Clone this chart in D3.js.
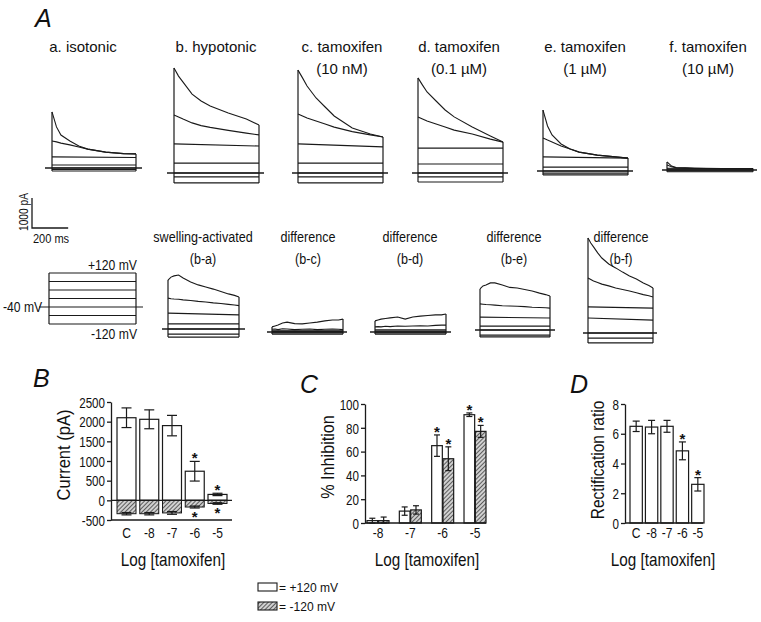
<!DOCTYPE html>
<html><head><meta charset="utf-8">
<script src="https://cdn.jsdelivr.net/npm/d3@7"></script>
<style>
body{margin:0;background:#fff}
svg{display:block}
text{font-family:"Liberation Sans",Arial,sans-serif;fill:#111}
</style></head><body>
<svg id="chart" width="761" height="622"></svg>
<script>
// ---------------- DATA ----------------
const doseLabels = ["C", "-8", "-7", "-6", "-5"];
const currentPos = [2100, 2060, 1900, 740, 150];
const currentPosErr = [250, 240, 260, 250, 30];
const currentNeg = [-340, -340, -320, -170, -80];
const currentNegErr = [30, 30, 35, 25, 20];
const currentStars = [false, false, false, true, true];
const currentTicks = [-500, 0, 500, 1000, 1500, 2000, 2500];

const inhibLabels = ["-8", "-7", "-6", "-5"];
const inhibPos = [2, 10, 65, 91];
const inhibPosErr = [2, 3.5, 9, 1.5];
const inhibNeg = [2, 11, 54, 77];
const inhibNegErr = [3, 3.5, 10, 5];
const inhibStars = [false, false, true, true];
const inhibTicks = [0, 20, 40, 60, 80, 100];

const rectRatio = [6.5, 6.45, 6.5, 4.85, 2.6];
const rectErr = [0.35, 0.45, 0.4, 0.6, 0.45];
const rectStars = [false, false, false, true, true];
const rectTicks = [0, 2, 4, 6, 8];

// voltage steps (mV), holding -40 mV
const stepVoltages = [120, 80, 40, 0, -40, -80, -120];
// sample times (ms) of the current traces
const timeTop = [0, 25, 50, 100, 150, 200, 300, 400, 470];
const timeDiff = [0, 20, 40, 70, 100, 150, 200, 250, 300, 350, 400, 440, 470];
const timeFlat = [0, 470];

// current traces (pA) in step order +120 .. -120
const traceIsotonic = [
  [1870, 1370, 1100, 900, 730, 630, 530, 480, 470],
  [900, 870, 830, 770, 700, 630, 530, 480, 470],
  [370, 350], [100, 100], [0, 0], [-50, -50], [-100, -100]];
const traceHypotonic = [
  [3500, 3230, 3030, 2630, 2400, 2230, 2000, 1800, 1600],
  [1930, 1870, 1800, 1670, 1580, 1520, 1420, 1330, 1270],
  [970, 900], [330, 330], [0, 0], [-130, -130], [-330, -330]];
const traceTam10nM = [
  [3430, 3170, 2900, 2500, 2200, 1900, 1500, 1300, 1200],
  [1970, 1900, 1830, 1730, 1630, 1530, 1380, 1270, 1200],
  [970, 870], [330, 330], [0, 0], [-130, -130], [-330, -330]];
const traceTam01uM = [
  [3170, 2930, 2700, 2400, 2100, 1870, 1530, 1230, 1030],
  [1870, 1800, 1730, 1630, 1530, 1430, 1300, 1130, 1030],
  [830, 830], [300, 300], [0, 0], [-130, -130], [-300, -300]];
const traceTam1uM = [
  [2030, 1500, 1200, 900, 730, 630, 530, 470, 430],
  [1100, 1030, 970, 830, 730, 630, 530, 470, 430],
  [470, 430], [130, 130], [0, 0], [-70, -70], [-130, -130]];
const traceTam10uM = [
  [270, 130, 80, 70, 60, 55, 50, 50, 50],
  [170, 110, 75, 65, 55, 50, 45, 45, 45],
  [60, 40], [30, 25], [0, 0], [-30, -30], [-60, -60]];

const diffBA = [
  [1630, 1730, 1770, 1800, 1700, 1570, 1470, 1400, 1330, 1250, 1170, 1120, 1070],
  [1030, 1010, 1000, 990, 970, 950, 920, 900, 870, 850, 820, 800, 780],
  [530, 470], [170, 170], [0, 0], [-170, -170], [-270, -270]];
const diffBC = [
  [170, 200, 230, 300, 330, 280, 270, 300, 330, 370, 400, 400, 430],
  [90, 100, 80, 110, 100, 80, 90, 100, 80, 90, 100, 90, 80],
  [40, 40], [20, 20], [0, 0], [-30, -30], [-70, -70]];
const diffBD = [
  [370, 400, 430, 450, 470, 500, 430, 500, 530, 550, 570, 570, 600],
  [170, 180, 170, 190, 180, 200, 190, 200, 210, 200, 220, 230, 230],
  [70, 70], [30, 30], [0, 0], [-30, -30], [-70, -70]];
const diffBE = [
  [1370, 1470, 1500, 1570, 1570, 1500, 1420, 1400, 1350, 1300, 1230, 1180, 1130],
  [870, 860, 850, 840, 830, 810, 800, 790, 780, 760, 750, 740, 730],
  [430, 400], [130, 130], [0, 0], [-170, -170], [-230, -230]];
const diffBF = [
  [3170, 3000, 2870, 2670, 2500, 2300, 2170, 2030, 1900, 1800, 1670, 1580, 1500],
  [1830, 1780, 1730, 1680, 1630, 1570, 1500, 1450, 1400, 1340, 1280, 1240, 1200],
  [870, 830], [500, 430], [0, 0], [-170, -170], [-330, -330]];

// ---------------- LAYOUT ----------------
const svg = d3.select("#chart");
const defs = svg.append("defs");
const pat = defs.append("pattern").attr("id", "hatch").attr("patternUnits", "userSpaceOnUse")
  .attr("width", 3).attr("height", 3).attr("patternTransform", "rotate(45)");
pat.append("rect").attr("width", 3).attr("height", 3).attr("fill", "#d0d0d0");
pat.append("line").attr("x1", 0).attr("y1", 0).attr("x2", 0).attr("y2", 3)
  .attr("stroke", "#2a2a2a").attr("stroke-width", 1.4);

const ink = "#1a1a1a";
// text helper: sx = horizontal compression (condensed look), rotate = vertical text
function txt(g, x, y, s, size, opts = {}) {
  const sx = opts.sx || 1;
  let tr = `translate(${x},${y})`;
  if (opts.rotate) tr += " rotate(-90)";
  if (sx !== 1) tr += ` scale(${sx},1)`;
  const t = g.append("text").attr("transform", tr).attr("font-size", size).text(s)
    .attr("text-anchor", opts.anchor || "start");
  if (opts.italic) t.attr("font-style", "italic");
  return t;
}

// panel letters
txt(svg, 35, 27, "A", 25, {italic: true});
txt(svg, 33, 387, "B", 25, {italic: true});
txt(svg, 300, 393, "C", 25, {italic: true});
txt(svg, 570, 393, "D", 25, {italic: true});

// ---------------- PANEL A: traces ----------------
const pxPerPa = 30 / 1000;
const panels = [
  {data: traceIsotonic, t: timeTop, x0: 52, x1: 136, base: 168, lx0: 45, lx1: 142, title: ["a. isotonic"], tx: 83, ty: 52, sx: 1},
  {data: traceHypotonic, t: timeTop, x0: 174, x1: 259, base: 173, lx0: 167, lx1: 264, title: ["b. hypotonic"], tx: 216, ty: 52, sx: 1},
  {data: traceTam10nM, t: timeTop, x0: 298, x1: 383, base: 173, lx0: 292, lx1: 388, title: ["c. tamoxifen", "(10 nM)"], tx: 342, ty: 52, sx: 1},
  {data: traceTam01uM, t: timeTop, x0: 418, x1: 503, base: 173, lx0: 412, lx1: 508, title: ["d. tamoxifen", "(0.1 µM)"], tx: 459, ty: 52, sx: 1},
  {data: traceTam1uM, t: timeTop, x0: 543, x1: 628, base: 171, lx0: 537, lx1: 633, title: ["e. tamoxifen", "(1 µM)"], tx: 585, ty: 52, sx: 1},
  {data: traceTam10uM, t: timeTop, x0: 667, x1: 753, base: 170, lx0: 662, lx1: 757, title: ["f. tamoxifen", "(10 µM)"], tx: 708, ty: 52, sx: 1},
  {data: diffBA, t: timeDiff, x0: 168, x1: 239, base: 329, lx0: 162, lx1: 245, title: ["swelling-activated", "(b-a)"], tx: 203, ty: 242, sx: 0.84},
  {data: diffBC, t: timeDiff, x0: 272, x1: 343, base: 332, lx0: 267, lx1: 347, title: ["difference", "(b-c)"], tx: 308, ty: 242, sx: 0.84},
  {data: diffBD, t: timeDiff, x0: 375, x1: 446, base: 332, lx0: 370, lx1: 451, title: ["difference", "(b-d)"], tx: 410, ty: 242, sx: 0.84},
  {data: diffBE, t: timeDiff, x0: 480, x1: 550, base: 330, lx0: 475, lx1: 555, title: ["difference", "(b-e)"], tx: 514, ty: 242, sx: 0.84},
  {data: diffBF, t: timeDiff, x0: 588, x1: 653, base: 333, lx0: 583, lx1: 657, title: ["difference", "(b-f)"], tx: 621, ty: 242, sx: 0.84}
];
const gA = svg.append("g");
panels.forEach(p => {
  const x = d3.scaleLinear().domain([0, 470]).range([p.x0, p.x1]);
  const y = d3.scaleLinear().domain([0, 1000]).range([p.base, p.base - 1000 * pxPerPa]);
  const g = gA.append("g");
  p.title.forEach((s, i) => txt(g, p.tx, p.ty + i * 22, s, 15, {anchor: "middle", sx: p.sx}));
  g.append("line").attr("x1", p.lx0).attr("x2", p.lx1).attr("y1", y(0)).attr("y2", y(0))
    .attr("stroke", ink).attr("stroke-width", 1.3);
  const line = d3.line().x(d => x(d[0])).y(d => y(d[1]));
  p.data.forEach(tr => {
    const tt = tr.length === 2 ? timeFlat : p.t;
    g.append("path").attr("d", line(tr.map((v, i) => [tt[i], v])))
      .attr("fill", "none").attr("stroke", ink).attr("stroke-width", 1.1);
  });
  const firsts = p.data.map(tr => tr[0]), lasts = p.data.map(tr => tr[tr.length - 1]);
  g.append("line").attr("x1", x(0)).attr("x2", x(0)).attr("y1", y(d3.min(firsts))).attr("y2", y(d3.max(firsts)))
    .attr("stroke", ink).attr("stroke-width", 1.2);
  g.append("line").attr("x1", x(470)).attr("x2", x(470)).attr("y1", y(d3.min(lasts))).attr("y2", y(d3.max(lasts)))
    .attr("stroke", ink).attr("stroke-width", 1.2);
});

// scale bar
const sbY = d3.scaleLinear().domain([0, 1000]).range([228, 198]);
const sbX = d3.scaleLinear().domain([0, 470]).range([32, 32 + 85]);
svg.append("path").attr("d", `M${sbX(0)},${sbY(1000)}V${sbY(0)}H${sbX(200)}`)
  .attr("fill", "none").attr("stroke", ink).attr("stroke-width", 1.3);
txt(svg, 28, 212, "1000 pA", 12, {anchor: "middle", rotate: true, sx: 0.85});
txt(svg, 51, 243, "200 ms", 13, {anchor: "middle", sx: 0.85});

// voltage protocol
const vY = d3.scaleLinear().domain([-120, 120]).range([324, 273]);
const gV = svg.append("g");
stepVoltages.forEach(v => {
  const ext = v === -40;
  gV.append("line").attr("x1", ext ? 39 : 49).attr("x2", ext ? 143 : 136)
    .attr("y1", vY(v)).attr("y2", vY(v)).attr("stroke", ink).attr("stroke-width", 1.2);
});
gV.append("line").attr("x1", 49).attr("x2", 49).attr("y1", vY(120)).attr("y2", vY(-120)).attr("stroke", ink).attr("stroke-width", 1.2);
gV.append("line").attr("x1", 136).attr("x2", 136).attr("y1", vY(120)).attr("y2", vY(-120)).attr("stroke", ink).attr("stroke-width", 1.2);
txt(gV, 137, 270, "+120 mV", 14, {anchor: "end", sx: 0.87});
txt(gV, 3, vY(-40) + 5, "-40 mV", 14, {sx: 0.87});
txt(gV, 137, 339, "-120 mV", 14, {anchor: "end", sx: 0.87});

// ---------------- helpers for bar panels ----------------
function errBar(g, cx, yTop, yBot, cap) {
  g.append("line").attr("x1", cx).attr("x2", cx).attr("y1", yTop).attr("y2", yBot).attr("stroke", ink).attr("stroke-width", 1.2);
  [yTop, yBot].forEach(yy => g.append("line").attr("x1", cx - cap / 2).attr("x2", cx + cap / 2)
    .attr("y1", yy).attr("y2", yy).attr("stroke", ink).attr("stroke-width", 1.2));
}
function star(g, cx, yy) {
  txt(g, cx, yy + 6, "*", 15, {anchor: "middle"}).attr("font-weight", "bold");
}
function yAxis(g, scale, ticks, x) {
  const ax = g.append("g").attr("transform", `translate(${x},0)`)
    .call(d3.axisLeft(scale).tickValues(ticks).tickFormat(d => String(d)).tickSize(4).tickSizeOuter(0).tickPadding(2));
  ax.selectAll("path,line").attr("stroke", ink).attr("stroke-width", 1.3);
  ax.selectAll("text").attr("font-size", 14.5).attr("fill", "#111")
    .attr("x", 0).attr("dy", "0.36em").attr("transform", "translate(-6,0) scale(0.8,1)")
    .attr("font-family", "Liberation Sans, Arial, sans-serif");
  return ax;
}
const xLab = (g, cx, s) => txt(g, cx, 538, s, 15, {anchor: "middle", sx: 0.8});

// ---------------- PANEL B ----------------
const gB = svg.append("g");
const bY = d3.scaleLinear().domain([-500, 2500]).range([520, 402]);
const bX = d3.scaleBand().domain(doseLabels).range([111, 233]).paddingInner(0.165).paddingOuter(0.264);
yAxis(gB, bY, currentTicks, 111);
gB.append("line").attr("x1", 111).attr("x2", 232).attr("y1", bY(-500)).attr("y2", bY(-500)).attr("stroke", ink).attr("stroke-width", 1.3);
doseLabels.forEach((c, i) => {
  const x0 = bX(c), w = bX.bandwidth(), cx = x0 + w / 2;
  gB.append("rect").attr("x", x0).attr("y", bY(currentPos[i])).attr("width", w).attr("height", bY(0) - bY(currentPos[i]))
    .attr("fill", "#fff").attr("stroke", ink).attr("stroke-width", 1.2);
  gB.append("rect").attr("x", x0).attr("y", bY(0)).attr("width", w).attr("height", bY(currentNeg[i]) - bY(0))
    .attr("fill", "url(#hatch)").attr("stroke", ink).attr("stroke-width", 1);
  errBar(gB, cx, bY(currentPos[i] + currentPosErr[i]), bY(currentPos[i] - currentPosErr[i]), 10);
  errBar(gB, cx, bY(currentNeg[i] + currentNegErr[i]), bY(currentNeg[i] - currentNegErr[i]), 10);
  if (currentStars[i]) {
    star(gB, cx, bY(currentPos[i] + currentPosErr[i]) - 4);
    star(gB, cx, bY(currentNeg[i] - currentNegErr[i]) + 8);
  }
  xLab(gB, cx, c);
});
gB.append("line").attr("x1", 111).attr("x2", 232).attr("y1", bY(0)).attr("y2", bY(0)).attr("stroke", ink).attr("stroke-width", 1.3);
txt(gB, 70, 455, "Current (pA)", 18, {anchor: "middle", rotate: true, sx: 0.92});
txt(gB, 173, 566, "Log [tamoxifen]", 18, {anchor: "middle", sx: 0.85});

// ---------------- PANEL C ----------------
const gC = svg.append("g");
const cY = d3.scaleLinear().domain([0, 100]).range([523, 404]);
const cX = d3.scaleBand().domain(inhibLabels).range([367, 486]).paddingInner(0.32).paddingOuter(0);
const cSub = d3.scaleBand().domain(["pos", "neg"]).range([0, cX.bandwidth()]).paddingInner(0.06);
yAxis(gC, cY, inhibTicks, 365);
inhibLabels.forEach((c, i) => {
  const g0 = cX(c);
  [["pos", inhibPos, inhibPosErr, "#fff"], ["neg", inhibNeg, inhibNegErr, "url(#hatch)"]].forEach(([k, vals, errs, fill]) => {
    const x0 = g0 + cSub(k), w = cSub.bandwidth(), cx = x0 + w / 2;
    gC.append("rect").attr("x", x0).attr("y", cY(vals[i])).attr("width", w).attr("height", cY(0) - cY(vals[i]))
      .attr("fill", fill).attr("stroke", ink).attr("stroke-width", 1.2);
    errBar(gC, cx, cY(vals[i] + errs[i]), cY(Math.max(0, vals[i] - errs[i])), 6);
    if (inhibStars[i]) star(gC, cx, cY(vals[i] + errs[i]) - 4);
  });
  xLab(gC, g0 + cX.bandwidth() / 2, c);
});
gC.append("line").attr("x1", 365).attr("x2", 486).attr("y1", cY(0)).attr("y2", cY(0)).attr("stroke", ink).attr("stroke-width", 1.3);
txt(gC, 334, 457, "% Inhibition", 18, {anchor: "middle", rotate: true, sx: 0.9});
txt(gC, 427, 566, "Log [tamoxifen]", 18, {anchor: "middle", sx: 0.85});

// ---------------- PANEL D ----------------
const gD = svg.append("g");
const dY = d3.scaleLinear().domain([0, 8]).range([523, 404]);
const dX = d3.scaleBand().domain(doseLabels).range([630, 704]).paddingInner(0.2).paddingOuter(0);
yAxis(gD, dY, rectTicks, 625);
doseLabels.forEach((c, i) => {
  const x0 = dX(c), w = dX.bandwidth(), cx = x0 + w / 2;
  gD.append("rect").attr("x", x0).attr("y", dY(rectRatio[i])).attr("width", w).attr("height", dY(0) - dY(rectRatio[i]))
    .attr("fill", "#fff").attr("stroke", ink).attr("stroke-width", 1.2);
  errBar(gD, cx, dY(rectRatio[i] + rectErr[i]), dY(rectRatio[i] - rectErr[i]), 7);
  if (rectStars[i]) star(gD, cx, dY(rectRatio[i] + rectErr[i]) - 4);
  xLab(gD, cx, c);
});
gD.append("line").attr("x1", 625).attr("x2", 703).attr("y1", dY(0)).attr("y2", dY(0)).attr("stroke", ink).attr("stroke-width", 1.3);
txt(gD, 604, 460, "Rectification ratio", 18, {anchor: "middle", rotate: true, sx: 0.86});
txt(gD, 663, 566, "Log [tamoxifen]", 18, {anchor: "middle", sx: 0.85});

// ---------------- LEGEND ----------------
const gL = svg.append("g");
gL.append("rect").attr("x", 258).attr("y", 583).attr("width", 19).attr("height", 8).attr("fill", "#fff").attr("stroke", ink).attr("stroke-width", 1.1);
txt(gL, 279, 592, "= +120 mV", 13, {sx: 0.93});
gL.append("rect").attr("x", 258).attr("y", 602).attr("width", 19).attr("height", 8).attr("fill", "url(#hatch)").attr("stroke", ink).attr("stroke-width", 1.1);
txt(gL, 279, 611, "= -120 mV", 13, {sx: 0.93});
</script>
</body></html>
